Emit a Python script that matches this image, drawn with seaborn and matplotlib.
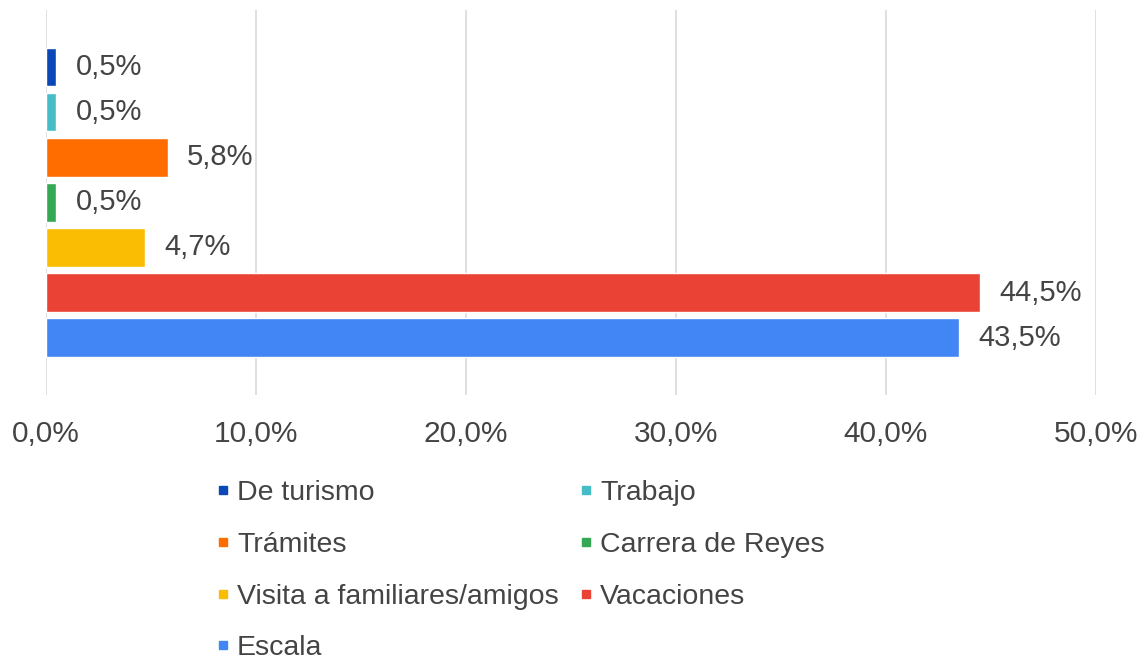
import matplotlib
matplotlib.use("Agg")
import matplotlib.pyplot as plt
import seaborn as sns
import pandas as pd
from matplotlib.lines import Line2D
from matplotlib.ticker import FuncFormatter

# motivos del viaje
categories = ["De turismo", "Trabajo", "Trámites", "Carrera de Reyes",
              "Visita a familiares/amigos", "Vacaciones", "Escala"]
values = [0.5, 0.5, 5.8, 0.5, 4.7, 44.5, 43.5]
colors = ["#0b47b7", "#46bdc6", "#ff6d01", "#34a853",
          "#fbbc04", "#ea4335", "#4285f4"]
ticks = [0, 10, 20, 30, 40, 50]

df = pd.DataFrame({"Motivo": categories, "Pct": values})

sns.set_style("white")
plt.rcParams["font.family"] = ["Liberation Sans", "DejaVu Sans"]
text_color = "#444444"

fig = plt.figure(figsize=(11.46, 6.67), dpi=100)
ax = fig.add_axes([0.040, 0.408, 0.916, 0.577])

sns.barplot(data=df, x="Pct", y="Motivo", hue="Motivo", palette=colors,
            order=categories, hue_order=categories, legend=False,
            width=0.85, ax=ax, saturation=1)

# labels at the end of each bar
for cont in ax.containers:
    ax.bar_label(cont, labels=[("%.1f%%" % v.get_width()).replace(".", ",")
                               for v in cont],
                 padding=14, fontsize=21, color=text_color)

ax.set_xlim(0, 50)
ax.set_ylim(7.27, -1.27)
ax.set_xticks(ticks)
ax.xaxis.set_major_formatter(FuncFormatter(lambda v, p: ("%.1f%%" % v).replace(".", ",")))
ax.tick_params(axis="x", labelsize=21.5, colors=text_color, length=0, pad=18)
ax.set_yticks([])
ax.set_xlabel("")
ax.set_ylabel("")
ax.grid(axis="x", color="#d9d9d9", linewidth=1.2)
ax.set_axisbelow(True)
for s in ax.spines.values():
    s.set_visible(False)

# legend, two columns filled row by row like the original
order = [0, 2, 4, 6, 1, 3, 5]
handles = [Line2D([], [], marker="s", linestyle="", markersize=6,
                  color=colors[i]) for i in order]
labels = [categories[i] for i in order]
fig.legend(handles, labels, ncol=2, frameon=False, fontsize=20.5,
           loc="upper left", bbox_to_anchor=(0.172, 0.297),
           handletextpad=0.0, columnspacing=0.45, labelspacing=0.9,
           labelcolor=text_color, borderaxespad=0, handlelength=1.0)

fig.savefig("out.png", dpi=100)
